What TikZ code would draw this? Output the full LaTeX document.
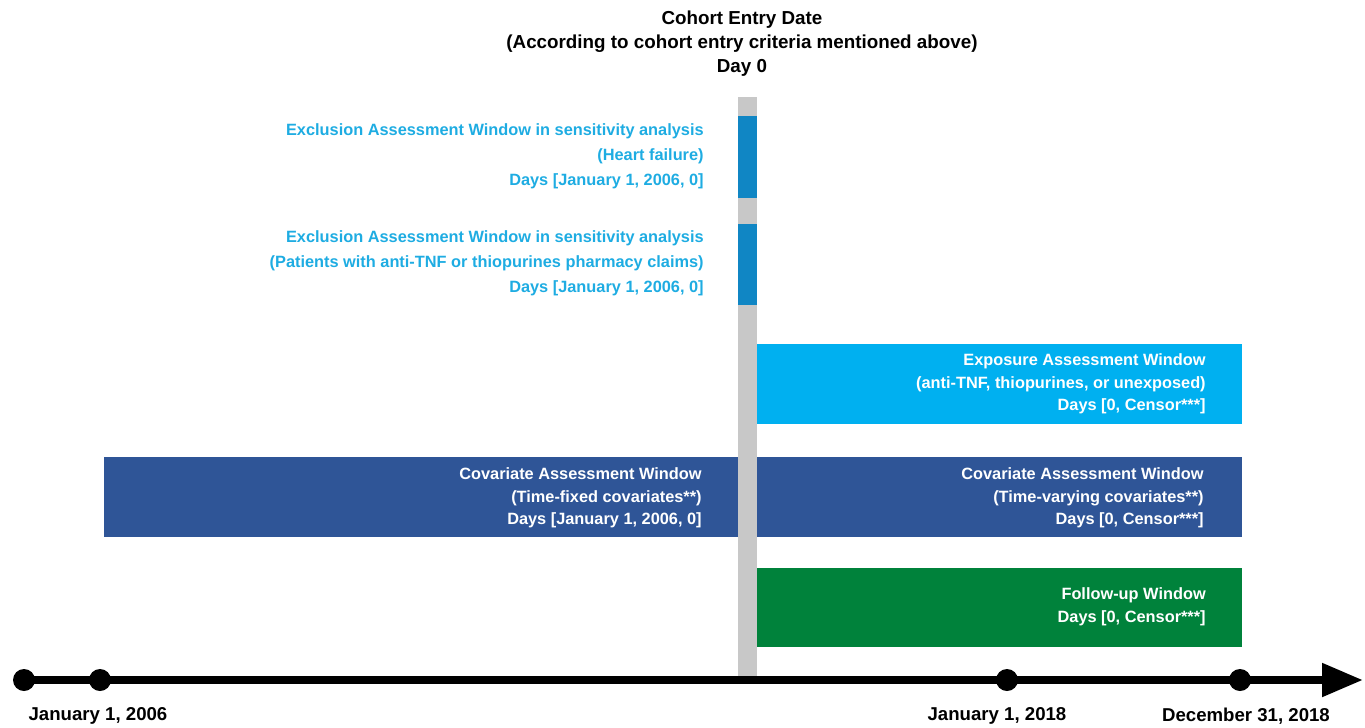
\documentclass[tikz,border=0pt]{standalone}
\usepackage{fontspec}
\setmainfont{Liberation Sans}
\usetikzlibrary{arrows.meta}

\definecolor{dayGray}{RGB}{200,200,200}
\definecolor{exclBar}{RGB}{16,134,196}
\definecolor{exclText}{RGB}{30,172,226}
\definecolor{expoBlue}{RGB}{0,176,240}
\definecolor{covBlue}{RGB}{47,85,151}
\definecolor{fuGreen}{RGB}{0,130,59}

\begin{document}
\begin{tikzpicture}[x=0.02cm,y=-0.02cm,
    dot/.style={circle,fill=black,minimum size=0.44cm,inner sep=0pt},
    winlabel/.style={font=\bfseries\fontsize{9.3}{12.8}\selectfont,align=right,anchor=east,text=white,inner sep=0pt},
    excllabel/.style={font=\bfseries\fontsize{9.3}{14.2}\selectfont,align=right,anchor=east,text=exclText,inner sep=0pt},
    datelabel/.style={font=\bfseries\fontsize{10.6}{12}\selectfont,inner sep=0pt}]
\useasboundingbox (0,0) rectangle (1365,727);

% day 0 bar with the two exclusion windows
\fill[dayGray] (738,97) rectangle (757,676);
\fill[exclBar] (738,116) rectangle (757,198);
\fill[exclBar] (738,224) rectangle (757,305);

\node[font=\bfseries\fontsize{10.7}{13.6}\selectfont,align=center] (entry) at (742,44)
    {Cohort Entry Date\\(According to cohort entry criteria mentioned above)\\Day 0};

\node[excllabel] (exclHF) at (704,156)
    {Exclusion Assessment Window in sensitivity analysis\\(Heart failure)\\Days [January 1, 2006, 0]};
\node[excllabel] (exclRx) at (704,263)
    {Exclusion Assessment Window in sensitivity analysis\\(Patients with anti-TNF or thiopurines pharmacy claims)\\Days [January 1, 2006, 0]};

% windows
\fill[expoBlue] (757,344) rectangle (1242,424);
\node[winlabel] (expo) at (1206,384)
    {Exposure Assessment Window\\(anti-TNF, thiopurines, or unexposed)\\Days [0, Censor***]};

\fill[covBlue] (104,457) rectangle (738,537);
\node[winlabel] (covFixed) at (702,498)
    {Covariate Assessment Window\\(Time-fixed covariates**)\\Days [January 1, 2006, 0]};
\fill[covBlue] (757,457) rectangle (1242,537);
\node[winlabel] (covVary) at (1204,498)
    {Covariate Assessment Window \\(Time-varying covariates**)\\Days [0, Censor***]};

\fill[fuGreen] (757,568) rectangle (1242,647);
\node[winlabel] (follow) at (1206,607)
    {Follow-up Window\\Days [0, Censor***]};

% time axis
\node[dot] (t0) at (24,680) {};
\node[dot] (t2006) at (100,680) {};
\node[dot] (t2018) at (1007,680) {};
\node[dot] (tEnd) at (1240,680) {};
\coordinate (tip) at (1363,680);
\draw[line width=4.6pt,-{Triangle[length=0.82cm,width=0.64cm]}] (t0.center) -- (tip);

\node[datelabel] (d2006) at (98,716) {January 1, 2006};
\node[datelabel] (d2018) at (997,716) {January 1, 2018};
\node[datelabel] (dEnd) at (1246,716) {December 31, 2018};
\end{tikzpicture}
\end{document}
